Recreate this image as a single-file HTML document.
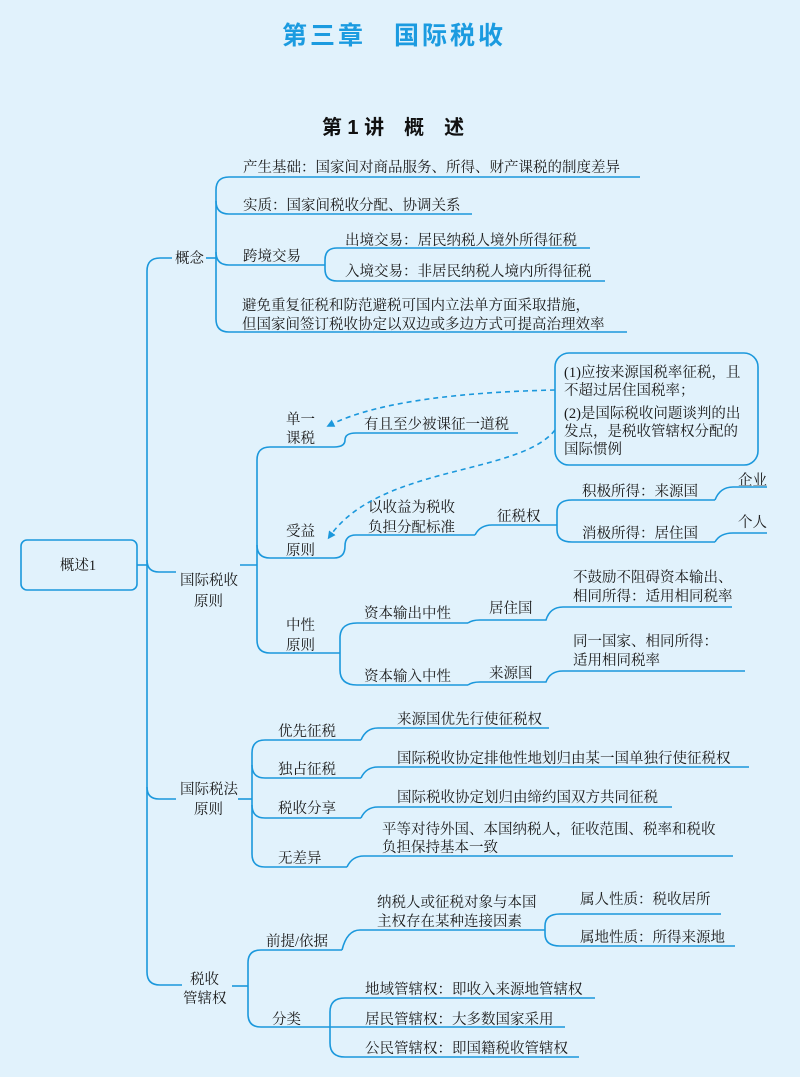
<!DOCTYPE html>
<html><head><meta charset="utf-8"><style>
html,body{margin:0;padding:0;background:#e1f2fc;}
svg{display:block}
text{font-family:"Liberation Serif","Noto Serif CJK SC",serif;font-size:14.5px;fill:#1a1a1a;}
.s{font-family:"Liberation Sans","Noto Sans CJK SC",sans-serif;}
.l{fill:none;stroke:#1b98dc;stroke-width:1.6;}
</style></head><body>
<svg width="800" height="1077" viewBox="0 0 800 1077" xmlns="http://www.w3.org/2000/svg">
<defs><marker id="ah" markerWidth="8" markerHeight="8" refX="4" refY="4" orient="auto" markerUnits="userSpaceOnUse"><path d="M0,0 L8,4 L0,8 z" fill="#1b98dc"/></marker></defs>
<rect width="800" height="1077" fill="#e1f2fc"/>
<text class="s" x="394" y="44" text-anchor="middle" style="font-size:25px;font-weight:bold;fill:#1b9be0;letter-spacing:3px">第三章　国际税收</text>
<text class="s" x="393" y="134" text-anchor="middle" style="font-size:20px;font-weight:bold;fill:#111">第 1 讲　概　述</text>

<!-- root -->
<rect x="21" y="540" width="116" height="50" rx="6" class="l" fill="#e1f2fc"/>
<text x="78" y="570" text-anchor="middle">概述1</text>
<path class="l" d="M137,565 H147"/>
<path class="l" d="M172,258 H160 Q147,258 147,271 V972 Q147,985 160,985 H182"/>
<path class="l" d="M147,560 Q147,572 159,572 H176"/>
<path class="l" d="M147,787 Q147,799 159,799 H176"/>

<!-- 概念 -->
<text x="175" y="263">概念</text>
<path class="l" d="M206,258 H216"/>
<path class="l" d="M640,177 H229 Q216,177 216,190 V319 Q216,332 229,332 H627"/>
<path class="l" d="M216,201 Q216,214 229,214 H472"/>
<path class="l" d="M216,252 Q216,265 229,265 H325"/>
<path class="l" d="M590,248 H337 Q325,248 325,260 V269 Q325,281 337,281 H605"/>
<text x="243" y="172">产生基础：国家间对商品服务、所得、财产课税的制度差异</text>
<text x="243" y="210">实质：国家间税收分配、协调关系</text>
<text x="243" y="261">跨境交易</text>
<text x="345" y="245">出境交易：居民纳税人境外所得征税</text>
<text x="345" y="276">入境交易：非居民纳税人境内所得征税</text>
<text x="242" y="310">避免重复征税和防范避税可国内立法单方面采取措施，</text>
<text x="242" y="329">但国家间签订税收协定以双边或多边方式可提高治理效率</text>

<!-- 国际税收原则 -->
<text x="180" y="585">国际税收</text>
<text x="194" y="606">原则</text>
<path class="l" d="M240,565 H257"/>
<path class="l" d="M334,447 H270 Q257,447 257,460 V640 Q257,653 270,653 H340"/>
<path class="l" d="M257,545 Q257,558 270,558 H334"/>
<path class="l" d="M334,447 Q345,447 345,440 Q345,433 356,433 H518"/>
<path class="l" d="M334,558 Q345,558 345,546 Q345,535 356,535 H475"/>
<path class="l" d="M475,535 Q480,525 492,525 H557"/>
<path class="l" d="M715,500 H572 Q557,500 557,512 V530 Q557,542 572,542 H715"/>
<path class="l" d="M715,500 Q720,487 733,487 H767"/>
<path class="l" d="M715,542 Q720,533 733,533 H767"/>
<path class="l" d="M468,623 H357 Q340,623 340,638 V670 Q340,685 357,685 H468"/>
<path class="l" d="M468,623 Q472,620 480,620 H546 Q550,607 563,607 H732"/>
<path class="l" d="M468,685 Q472,682 480,682 H546 Q550,671 563,671 H745"/>
<text x="286" y="424">单一</text>
<text x="286" y="443">课税</text>
<text x="364" y="429">有且至少被课征一道税</text>
<text x="286" y="536">受益</text>
<text x="286" y="555">原则</text>
<text x="368" y="512">以收益为税收</text>
<text x="368" y="532">负担分配标准</text>
<text x="497" y="521">征税权</text>
<text x="582" y="496">积极所得：来源国</text>
<text x="738" y="485">企业</text>
<text x="582" y="538">消极所得：居住国</text>
<text x="738" y="527">个人</text>
<text x="286" y="630">中性</text>
<text x="286" y="650">原则</text>
<text x="364" y="618">资本输出中性</text>
<text x="489" y="613">居住国</text>
<text x="573" y="582">不鼓励不阻碍资本输出、</text>
<text x="573" y="601">相同所得：适用相同税率</text>
<text x="364" y="681">资本输入中性</text>
<text x="489" y="678">来源国</text>
<text x="573" y="646">同一国家、相同所得：</text>
<text x="573" y="665">适用相同税率</text>

<!-- note box -->
<rect x="555" y="353" width="203" height="112" rx="14" class="l"/>
<text x="564" y="377">(1)应按来源国税率征税，且</text>
<text x="564" y="395">不超过居住国税率；</text>
<text x="564" y="418">(2)是国际税收问题谈判的出</text>
<text x="564" y="436">发点，是税收管辖权分配的</text>
<text x="564" y="454">国际惯例</text>
<path class="l" d="M555,390 C470,392 380,400 330,425" stroke-dasharray="5,4" marker-end="url(#ah)"/>
<path class="l" d="M555,430 C520,475 380,465 330,536" stroke-dasharray="5,4" marker-end="url(#ah)"/>

<!-- 国际税法原则 -->
<text x="180" y="794">国际税法</text>
<text x="194" y="814">原则</text>
<path class="l" d="M238,799 H252"/>
<path class="l" d="M361,740 H265 Q252,740 252,753 V854 Q252,867 265,867 H347"/>
<path class="l" d="M252,765 Q252,778 265,778 H361"/>
<path class="l" d="M252,805 Q252,818 265,818 H361"/>
<path class="l" d="M361,740 Q366,728 378,728 H549"/>
<path class="l" d="M361,778 Q366,767 378,767 H749"/>
<path class="l" d="M361,818 Q366,807 378,807 H672"/>
<path class="l" d="M347,867 Q352,856 364,856 H733"/>
<text x="278" y="736">优先征税</text>
<text x="278" y="774">独占征税</text>
<text x="278" y="813">税收分享</text>
<text x="278" y="863">无差异</text>
<text x="397" y="724">来源国优先行使征税权</text>
<text x="397" y="763">国际税收协定排他性地划归由某一国单独行使征税权</text>
<text x="397" y="802">国际税收协定划归由缔约国双方共同征税</text>
<text x="382" y="834">平等对待外国、本国纳税人，征收范围、税率和税收</text>
<text x="382" y="852">负担保持基本一致</text>

<!-- 税收管辖权 -->
<text x="190" y="984">税收</text>
<text x="183" y="1003">管辖权</text>
<path class="l" d="M232,986 H248"/>
<path class="l" d="M342,950 H261 Q248,950 248,963 V1014 Q248,1027 261,1027 H565"/>
<path class="l" d="M342,950 Q347,930 360,930 H545"/>
<path class="l" d="M721,914 H560 Q545,914 545,926 V934 Q545,946 560,946 H735"/>
<path class="l" d="M595,998 H345 Q330,998 330,1012 V1043 Q330,1057 345,1057 H579"/>
<text x="266" y="946">前提/依据</text>
<text x="377" y="907">纳税人或征税对象与本国</text>
<text x="377" y="926">主权存在某种连接因素</text>
<text x="580" y="904">属人性质：税收居所</text>
<text x="580" y="942">属地性质：所得来源地</text>
<text x="272" y="1024">分类</text>
<text x="365" y="994">地域管辖权：即收入来源地管辖权</text>
<text x="365" y="1024">居民管辖权：大多数国家采用</text>
<text x="365" y="1053">公民管辖权：即国籍税收管辖权</text>
</svg>
</body></html>
